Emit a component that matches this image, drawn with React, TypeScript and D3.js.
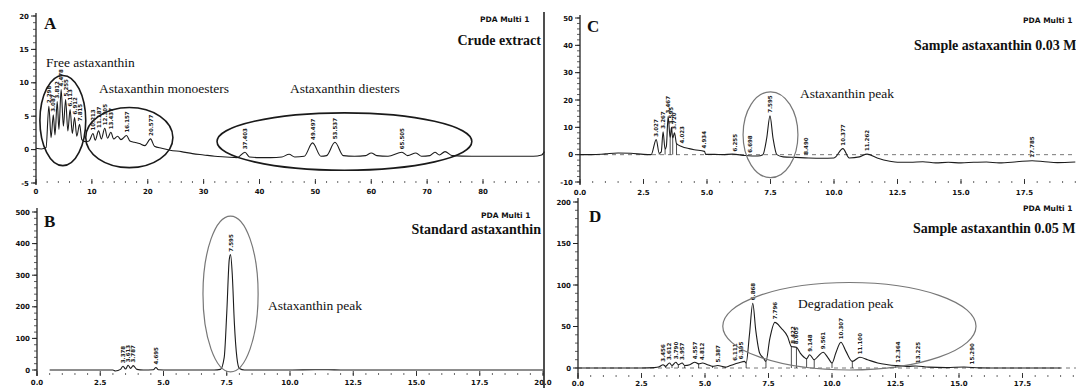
import React from "react";
import * as d3 from "d3";

type Pt = [number, number];
type PeakLabel = [number, string];
type Ell = [number, number, number, number, string]; // t0, t1, v0, v1, stroke

// A - crude extract, 0-90 min
const aTrace: Pt[] = [
  [0, 0.2], [1, 0.1], [1.8, 0.3], [2.3, 6.5], [2.7, 1.8], [3.1, 5.2], [3.4, 2.2], [3.8, 7.2],
  [4.1, 3.0], [4.5, 9.0], [4.9, 3.5], [5.3, 7.5], [5.7, 2.8], [6.1, 6.0], [6.5, 2.4], [6.9, 4.8],
  [7.3, 2.0], [7.8, 3.8], [8.2, 1.5], [8.8, 1.2], [9.5, 1.3], [10.2, 2.4], [10.6, 1.4], [11.2, 2.8],
  [11.7, 1.6], [12.3, 3.2], [12.8, 1.7], [13.4, 2.6], [13.9, 1.6], [14.6, 2.0], [15.2, 1.5],
  [16.2, 2.1], [16.8, 1.3], [17.6, 1.1], [18.5, 0.9], [19.5, 0.6], [20.5, 1.6], [21.2, 0.5],
  [22.5, 0.2], [24, -0.1], [26, -0.3], [28, -0.6], [30, -0.8], [32, -1.0], [34, -1.1], [36, -1.2],
  [37.4, -0.4], [38.2, -1.1], [40, -1.2], [42, -1.2], [44, -1.1], [45.3, -0.7], [46.3, -1.1],
  [48, -1.0], [49.5, 1.0], [51, -1.0], [52, -0.9], [53.5, 1.1], [55, -0.9], [57, -1.0], [59, -0.9],
  [60, -0.5], [61, -0.9], [63, -1.0], [65.5, -0.4], [66.5, -0.9], [68, -0.5], [69, -1.0],
  [70.5, -0.9], [71.4, -0.4], [72.2, -0.8], [73.2, -0.3], [74.5, -0.9], [78, -1.0], [82, -1.0],
  [86, -1.0], [89, -1.0], [90.5, -0.8], [91, -0.3],
];
const aPeakLabels: PeakLabel[] = [
  [2.3, "2.298"], [3.1, "3.087"], [3.8, "3.812"], [4.5, "4.478"], [5.3, "5.255"], [6.1, "6.113"],
  [6.9, "6.912"], [7.8, "7.815"], [10.2, "10.213"], [11.2, "11.187"], [12.3, "12.305"],
  [13.4, "13.437"], [16.2, "16.157"], [20.5, "20.577"], [37.4, "37.403"], [49.5, "49.497"],
  [53.5, "53.537"], [65.5, "65.505"],
];
const aXTicks = [0, 10, 20, 30, 40, 50, 60, 70, 80];
const aYTicks = [-5, 0, 5, 10, 15, 20];
const aEllipses: Ell[] = [
  [0.7, 8.9, 11.1, -2.4, "#1a1a1a"],
  [8.9, 24.5, 6.3, -2.7, "#1a1a1a"],
  [32.4, 78, 5.5, -3.1, "#1a1a1a"],
];

// B - standard astaxanthin, 0-20 min
const bTrace: Pt[] = [
  [0.5, 0], [2, 0], [3, 0], [3.1, -3], [3.3, 2], [3.4, 12], [3.5, 3], [3.6, 15], [3.7, 5],
  [3.8, 14], [3.95, 2], [4.2, 0], [4.6, 1], [4.7, 8], [4.8, 1], [5.2, 0], [6, 0], [7.0, 0],
  [7.25, 2], [7.4, 40], [7.5, 180], [7.6, 350], [7.65, 365], [7.72, 300], [7.8, 150], [7.9, 40],
  [8.0, 5], [8.2, 0], [9, 0], [10, 0], [11, 1], [11.5, 1], [12, 0], [14, 0], [16, 0], [18, 0], [20, 0],
];
const bPeakLabels: PeakLabel[] = [
  [3.4, "3.378"], [3.6, "3.613"], [3.8, "3.787"], [4.7, "4.695"], [7.65, "7.595"],
];
const bXTicks = [0, 2.5, 5, 7.5, 10, 12.5, 15, 17.5, 20];
const bYTicks = [0, 100, 200, 300, 400, 500];
const bEllipses: Ell[] = [[6.56, 8.74, 487, -6, "#777"]];

// C - sample astaxanthin 0.03 M
const cTrace: Pt[] = [
  [0, 0], [0.5, 0], [1, 0.3], [1.5, 0.6], [2, 0.5], [2.5, 0.1], [2.8, 0], [3.0, 5.5], [3.12, 0.5],
  [3.2, 1], [3.27, 8.4], [3.35, 2], [3.4, 3], [3.47, 14], [3.55, 6], [3.6, 10], [3.65, 6],
  [3.72, 8], [3.8, 4], [4.0, 3], [4.3, 2.2], [4.5, 1.8], [4.9, 1.2], [4.95, 0.1], [5.3, 0.1],
  [5.6, 0], [6.0, 0.2], [6.5, -0.3], [7.0, -0.5], [7.2, 0], [7.35, 6], [7.48, 14.2], [7.6, 6],
  [7.75, 0], [8, -0.8], [8.5, -1], [9, -1.2], [9.5, -1.3], [10.0, -1.2], [10.35, 2.2], [10.6, -1.2],
  [11.0, -0.8], [11.3, 0.2], [11.7, -1.2], [12.2, -2.4], [12.5, -2.8], [13, -2.8], [13.5, -2.6],
  [14, -3], [14.5, -2.8], [15, -3], [15.5, -2.8], [16, -2.7], [16.5, -3], [17.2, -2.6],
  [17.8, -2.2], [18.3, -2.6], [18.8, -2.9], [19.5, -2.7],
];
const cPeakLabels: PeakLabel[] = [
  [3.0, "3.027"], [3.27, "3.267"], [3.47, "3.467"], [3.6, "3.595"], [3.72, "3.720"],
  [4.0, "4.023"], [4.9, "4.934"], [6.1, "6.255"], [6.7, "6.698"], [7.48, "7.595"],
  [8.9, "8.490"], [10.35, "10.377"], [11.3, "11.262"], [17.8, "17.785"],
];
const cDrops = [3.12, 3.35, 3.55, 3.65, 3.8, 4.95];
const cXTicks = [0, 2.5, 5, 7.5, 10, 12.5, 15, 17.5];
const cYTicks = [-10, 0, 10, 20, 30, 40, 50];
const cEllipses: Ell[] = [[6.42, 8.58, 23, -8.4, "#777"]];

// D - sample astaxanthin 0.05 M
const dTrace: Pt[] = [
  [0, 0], [1, 0], [2, 0], [2.5, 0], [3.0, 0.5], [3.2, 1.5], [3.35, 4], [3.45, 2], [3.6, 6],
  [3.7, 3], [3.85, 7], [3.95, 4], [4.1, 6], [4.2, 3], [4.4, 4], [4.6, 7], [4.75, 5], [4.9, 6],
  [5.1, 4], [5.3, 2], [5.5, 3], [5.8, 1], [6.0, 3], [6.2, 5], [6.4, 7], [6.55, 8], [6.62, 6],
  [6.75, 40], [6.88, 78], [7.0, 45], [7.15, 18], [7.3, 12], [7.4, 8], [7.55, 35], [7.75, 55],
  [8.0, 48], [8.25, 38], [8.4, 26], [8.6, 25], [8.75, 18], [8.9, 13], [9.0, 11], [9.12, 16],
  [9.3, 10], [9.45, 14], [9.65, 19], [9.85, 12], [10.0, 6], [10.15, 18], [10.35, 31], [10.55, 20],
  [10.8, 8], [11.1, 13], [11.4, 10], [11.8, 6], [12.2, 4], [12.5, 3], [13.0, 2], [13.3, 2.5],
  [13.8, 1], [14.5, 0.5], [15.2, 1.2], [15.8, 0.2], [16.5, 0], [17, 0], [18, 0], [19, 0],
];
const dPeakLabels: PeakLabel[] = [
  [3.35, "3.456"], [3.6, "3.612"], [3.85, "3.790"], [4.1, "3.957"], [4.6, "4.557"],
  [4.9, "4.812"], [5.5, "5.387"], [6.2, "6.111"], [6.4, "6.395"], [6.88, "6.868"],
  [7.75, "7.796"], [8.45, "8.422"], [8.6, "8.605"], [9.12, "9.148"], [9.65, "9.561"],
  [10.35, "10.307"], [11.1, "11.100"], [12.6, "12.364"], [13.4, "13.225"], [15.5, "15.290"],
];
const dDrops = [3.45, 3.7, 3.95, 4.2, 4.75, 5.3, 5.8, 6.62, 7.4, 8.4, 8.6, 9.0, 9.3, 10.0, 10.8, 12.5];
const dXTicks = [0, 2.5, 5, 7.5, 10, 12.5, 15, 17.5];
const dYTicks = [0, 50, 100, 150, 200];
const dEllipses: Ell[] = [[5.7, 15.67, 103, -2.4, "#777"]];

const serif = "'Liberation Serif', 'Times New Roman', serif";
const sans = "'DejaVu Sans', sans-serif";

type Note = { text: string; x: number; y: number; size: number; bold?: boolean; anchor?: string; font?: string };

const valueAt = (trace: Pt[], t: number) => {
  const i = d3.bisector((d: Pt) => d[0]).left(trace, t);
  if (i <= 0) return trace[0][1];
  if (i >= trace.length) return trace[trace.length - 1][1];
  const [t0, v0] = trace[i - 1];
  const [t1, v1] = trace[i];
  return v0 + ((v1 - v0) * (t - t0)) / (t1 - t0);
};

function Panel(p: any) {
  const x = d3.scaleLinear().domain(p.xDomain).range(p.xRange);
  const y = d3.scaleLinear().domain(p.yDomain).range(p.yRange);
  const line = d3
    .line<Pt>()
    .x((d) => x(d[0]))
    .y((d) => y(d[1]))
    .curve(d3.curveMonotoneX);
  const ax = p.xRange[0];
  const yMinor = d3.range(p.yDomain[0], p.yDomain[1] + 1e-6, p.yMinorStep);
  const xMinor = d3.range(0, p.xMax + 1e-6, p.xMinorStep);
  const fmt = p.xFmt;

  return (
    <g>
      {/* y axis */}
      <line x1={ax} x2={ax} y1={p.axisTop} y2={p.axisBottom} stroke="#222" strokeWidth={1.3} />
      {yMinor.map((v: number) => (
        <line key={"ym" + v} x1={ax - 3} x2={ax} y1={y(v)} y2={y(v)} stroke="#333" strokeWidth={0.8} />
      ))}
      {p.yTicks.map((v: number) => (
        <g key={"yt" + v}>
          <line x1={ax - 5} x2={ax} y1={y(v)} y2={y(v)} stroke="#222" strokeWidth={1} />
          <text x={ax - 7} y={y(v) + 2.5} textAnchor="end" fontSize={7} fontWeight="bold" fontFamily={sans} fill="#111">
            {v}
          </text>
        </g>
      ))}
      {/* x tick row */}
      {xMinor.map((t: number) => (
        <line key={"xm" + t} x1={x(t)} x2={x(t)} y1={p.tickRowY - 1} y2={p.tickRowY + 1} stroke="#444" strokeWidth={0.8} />
      ))}
      {p.xTicks.map((t: number) => (
        <g key={"xt" + t}>
          <line x1={x(t)} x2={x(t)} y1={p.tickRowY - 3} y2={p.tickRowY + 2} stroke="#222" strokeWidth={0.9} />
          <text x={x(t)} y={p.tickLabelY} textAnchor="middle" fontSize={7} fontWeight="bold" fontFamily={sans} fill="#111">
            {fmt(t)}
          </text>
        </g>
      ))}
      {p.zeroLine && (
        <line x1={x(0)} x2={x(p.xMax)} y1={y(0)} y2={y(0)} stroke="#555" strokeWidth={0.8} strokeDasharray="4,4" />
      )}
      {/* drop lines */}
      {(p.drops || []).map((t: number) => (
        <line key={"dr" + t} x1={x(t)} x2={x(t)} y1={y(0)} y2={y(valueAt(p.trace, t))} stroke="#222" strokeWidth={0.8} />
      ))}
      <path d={line(p.trace) || ""} fill="none" stroke="#1c1c1c" strokeWidth={1.1} />
      {/* peak labels */}
      {p.labels.map(([t, s]: PeakLabel, i: number) => {
        const px = x(t) + 2;
        const py = y(valueAt(p.trace, t)) - 3;
        return (
          <text
            key={"pl" + i}
            transform={`translate(${px},${py}) rotate(-90)`}
            fontSize={5.5}
            fontWeight="bold"
            fontFamily={sans}
            fill="#222"
          >
            {s}
          </text>
        );
      })}
      {p.ellipses.map(([t0, t1, v0, v1, c]: Ell, i: number) => (
        <ellipse
          key={"el" + i}
          cx={(x(t0) + x(t1)) / 2}
          cy={(y(v0) + y(v1)) / 2}
          rx={Math.abs(x(t1) - x(t0)) / 2}
          ry={Math.abs(y(v1) - y(v0)) / 2}
          fill="none"
          stroke={c}
          strokeWidth={c === "#777" ? 1.2 : 1.6}
        />
      ))}
      {p.notes.map((n: Note, i: number) => (
        <text
          key={"n" + i}
          x={n.x}
          y={n.y}
          fontSize={n.size}
          fontWeight={n.bold ? "bold" : "normal"}
          textAnchor={n.anchor || "start"}
          fontFamily={n.font || serif}
          fill="#111"
        >
          {n.text}
        </text>
      ))}
    </g>
  );
}

const fmtInt = d3.format("d");
const fmt1 = d3.format(".1f");

export default function App() {
  const panels = [
    {
      xDomain: [0, 80], xRange: [36, 483], yDomain: [-5, 20], yRange: [183, 16],
      xTicks: aXTicks, xMinorStep: 2, xMax: 91, xFmt: fmtInt,
      yTicks: aYTicks, yMinorStep: 1, axisTop: 13, axisBottom: 185,
      tickRowY: 182, tickLabelY: 194, trace: aTrace, labels: aPeakLabels, ellipses: aEllipses,
      notes: [
        { text: "A", x: 44, y: 29, size: 17, bold: true },
        { text: "Free astaxanthin", x: 46, y: 67, size: 13.5 },
        { text: "Astaxanthin monoesters", x: 99, y: 93, size: 13.5 },
        { text: "Astaxanthin diesters", x: 290, y: 93, size: 13.5 },
        { text: "Crude extract", x: 541, y: 45, size: 14, bold: true, anchor: "end" },
        { text: "PDA Multi 1", x: 480, y: 22, size: 7.5, bold: true, font: sans },
      ],
    },
    {
      xDomain: [0, 20], xRange: [37, 543], yDomain: [0, 500], yRange: [370, 212],
      xTicks: bXTicks, xMinorStep: 0.5, xMax: 20, xFmt: fmt1,
      yTicks: bYTicks, yMinorStep: 20, axisTop: 208, axisBottom: 376,
      tickRowY: 374, tickLabelY: 385, trace: bTrace, labels: bPeakLabels, ellipses: bEllipses,
      notes: [
        { text: "B", x: 44, y: 227, size: 17, bold: true },
        { text: "Astaxanthin peak", x: 268, y: 310, size: 13.5 },
        { text: "Standard astaxanthin", x: 541, y: 234, size: 14, bold: true, anchor: "end" },
        { text: "PDA Multi 1", x: 481, y: 218, size: 7.5, bold: true, font: sans },
      ],
    },
    {
      xDomain: [0, 17.5], xRange: [580, 1024.5], yDomain: [-10, 50], yRange: [182, 18],
      xTicks: cXTicks, xMinorStep: 0.5, xMax: 20, xFmt: fmt1,
      yTicks: cYTicks, yMinorStep: 2, axisTop: 15, axisBottom: 185,
      tickRowY: 182, tickLabelY: 195, trace: cTrace, labels: cPeakLabels, ellipses: cEllipses,
      drops: cDrops, zeroLine: true,
      notes: [
        { text: "C", x: 587, y: 32, size: 17, bold: true },
        { text: "Astaxanthin peak", x: 800, y: 98, size: 13.5 },
        { text: "Sample astaxanthin 0.03 M", x: 914, y: 50, size: 14, bold: true },
        { text: "PDA Multi 1", x: 1023, y: 23, size: 7.5, bold: true, font: sans },
      ],
    },
    {
      xDomain: [0, 17.5], xRange: [578, 1022.5], yDomain: [0, 200], yRange: [368, 202],
      xTicks: dXTicks, xMinorStep: 0.5, xMax: 20, xFmt: fmt1,
      yTicks: dYTicks, yMinorStep: 10, axisTop: 198, axisBottom: 379,
      tickRowY: 376, tickLabelY: 386, trace: dTrace, labels: dPeakLabels, ellipses: dEllipses,
      drops: dDrops, zeroLine: true,
      notes: [
        { text: "D", x: 589, y: 222, size: 17, bold: true },
        { text: "Degradation peak", x: 798, y: 308, size: 13.5 },
        { text: "Sample astaxanthin 0.05 M", x: 913, y: 233, size: 14, bold: true },
        { text: "PDA Multi 1", x: 1023, y: 211, size: 7.5, bold: true, font: sans },
      ],
    },
  ];

  return (
    <svg
      width={1076}
      height={388}
      style={{ position: "absolute", left: 0, top: 0, background: "#fff" }}
    >
      <rect width={1076} height={388} fill="#fff" />
      {panels.map((p, i) => (
        <Panel key={i} {...p} />
      ))}
      {/* frame edge between the left and right chromatograms */}
      <line x1={544} x2={544} y1={12} y2={388} stroke="#222" strokeWidth={1.6} />
    </svg>
  );
}
